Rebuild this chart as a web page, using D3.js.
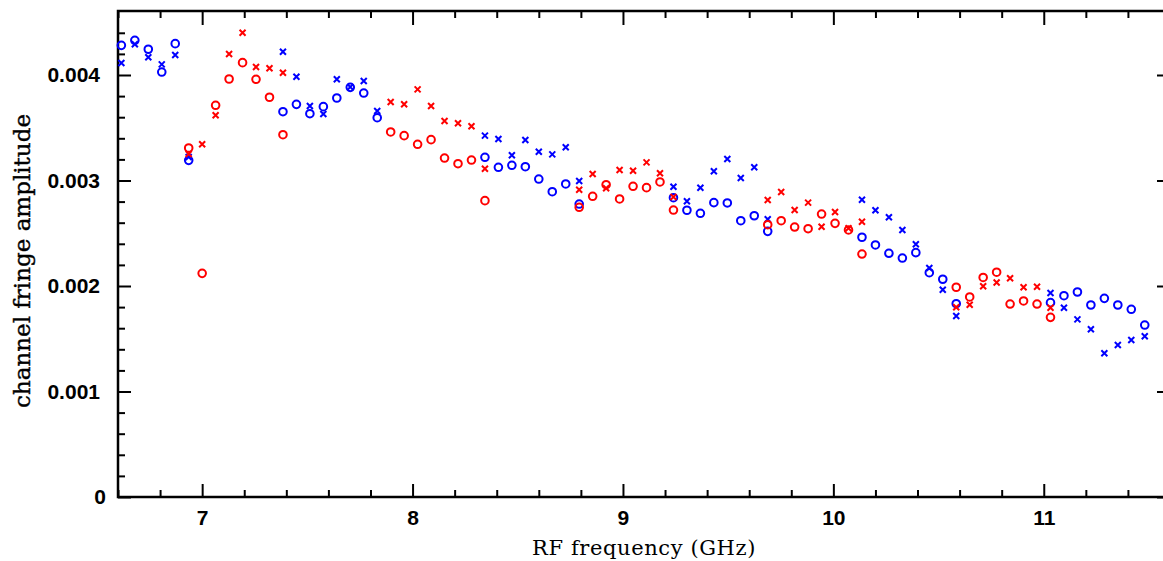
<!DOCTYPE html>
<html>
<head>
<meta charset="utf-8">
<script src="https://cdn.jsdelivr.net/npm/d3@7"></script>
<style>
  body { margin: 0; background: white; }
  .tick-label text { font-family: "Liberation Sans", Arial, sans-serif; font-weight: bold; font-size: 21px; fill: black; }
  .title { font-family: "DejaVu Serif", serif; fill: black; }
</style>
</head>
<body>
<svg id="chart"></svg>
<script>
// sub-band frequencies (GHz) and fringe amplitudes
const blueFreq = [6.616, 6.680, 6.744, 6.808, 6.872, 6.936,
    7.384, 7.448, 7.512, 7.576, 7.640, 7.704, 7.768, 7.832,
    8.344, 8.408, 8.472, 8.536, 8.600, 8.664, 8.728, 8.792,
    9.240, 9.304, 9.368, 9.432, 9.496, 9.560, 9.624, 9.688,
    10.136, 10.200, 10.264, 10.328, 10.392, 10.456, 10.520, 10.584,
    11.032, 11.096, 11.160, 11.224, 11.288, 11.352, 11.416, 11.480];
const blueCircle = [0.004281, 0.004329, 0.004244, 0.004028, 0.004297, 0.003191,
    0.003652, 0.003722, 0.003633, 0.003700, 0.003782, 0.003883, 0.003829, 0.003595,
    0.003220, 0.003125, 0.003144, 0.003131, 0.003014, 0.002894, 0.002967, 0.002777,
    0.002837, 0.002718, 0.002689, 0.002790, 0.002787, 0.002619, 0.002666, 0.002518,
    0.002462, 0.002389, 0.002310, 0.002265, 0.002316, 0.002126, 0.002064, 0.001832,
    0.001842, 0.001908, 0.001943, 0.001820, 0.001883, 0.001820, 0.001779, 0.001630];
const blueCross = [0.004114, 0.004291, 0.004168, 0.004101, 0.004190, 0.003223,
    0.004221, 0.003984, 0.003706, 0.003630, 0.003959, 0.003886, 0.003943, 0.003659,
    0.003425, 0.003393, 0.003239, 0.003384, 0.003273, 0.003248, 0.003315, 0.002995,
    0.002941, 0.002803, 0.002932, 0.003087, 0.003204, 0.003024, 0.003125, 0.002632,
    0.002818, 0.002718, 0.002651, 0.002531, 0.002395, 0.002171, 0.001965, 0.001716,
    0.001934, 0.001794, 0.001684, 0.001590, 0.001362, 0.001441, 0.001488, 0.001523];

const redFreq = [6.936, 7.000, 7.064, 7.128, 7.192, 7.256, 7.320, 7.384,
    7.896, 7.960, 8.024, 8.088, 8.152, 8.216, 8.280, 8.344,
    8.792, 8.856, 8.920, 8.984, 9.048, 9.112, 9.176, 9.240,
    9.688, 9.752, 9.816, 9.880, 9.944, 10.008, 10.072, 10.136,
    10.584, 10.648, 10.712, 10.776, 10.840, 10.904, 10.968, 11.032];
const redCircle = [0.003308, 0.002120, 0.003713, 0.003962, 0.004117, 0.003959, 0.003789, 0.003434,
    0.003460, 0.003425, 0.003343, 0.003387, 0.003213, 0.003159, 0.003194, 0.002809,
    0.002746, 0.002850, 0.002960, 0.002825, 0.002945, 0.002932, 0.002986, 0.002720,
    0.002581, 0.002619, 0.002559, 0.002543, 0.002682, 0.002594, 0.002531, 0.002303,
    0.001988, 0.001896, 0.002081, 0.002131, 0.001829, 0.001858, 0.001829, 0.001703];
const redCross = [0.003251, 0.003343, 0.003618, 0.004199, 0.004401, 0.004076, 0.004064, 0.004022,
    0.003744, 0.003722, 0.003864, 0.003706, 0.003564, 0.003542, 0.003514, 0.003112,
    0.002913, 0.003062, 0.002926, 0.003100, 0.003093, 0.003172, 0.003068, 0.002844,
    0.002815, 0.002891, 0.002720, 0.002790, 0.002562, 0.002701, 0.002547, 0.002609,
    0.001798, 0.001823, 0.001997, 0.002033, 0.002073, 0.001988, 0.001993, 0.001794];

const xMajor = [7, 8, 9, 10, 11];
const yMajor = [0, 0.001, 0.002, 0.003, 0.004];

const width = 1163, height = 561;
const m = {left: 118, right: 1170, top: 11, bottom: 497};

const svg = d3.select("#chart")
    .attr("width", width)
    .attr("height", height)
    .style("background-color", "white");

const x = d3.scaleLinear().domain([6.6, 11.6]).range([m.left, m.right]);
const y = d3.scaleLinear().domain([0, 0.0046066]).range([m.bottom, m.top]);

// minor ticks every 0.2 GHz / 0.0002
const xMinor = d3.range(6.6, 11.61, 0.2).filter(v => Math.abs(v - Math.round(v)) > 1e-6);
const yMinor = d3.range(0.0002, 0.0046, 0.0002).filter(v => Math.abs(v * 1000 - Math.round(v * 1000)) > 1e-6);

function strip(g) {
    g.select(".domain").remove();
    g.selectAll("line").attr("stroke", "black").attr("stroke-width", 2);
}

// bottom axis (ticks point up, labelled)
svg.append("g").attr("class", "tick-label")
    .attr("transform", "translate(0," + m.bottom + ")")
    .call(d3.axisBottom(x).tickValues(xMajor).tickFormat(d3.format("d")).tickSizeInner(-13).tickSizeOuter(0).tickPadding(13))
    .call(strip);
svg.append("g")
    .attr("transform", "translate(0," + m.bottom + ")")
    .call(d3.axisBottom(x).tickValues(xMinor).tickFormat("").tickSizeInner(-7).tickSizeOuter(0))
    .call(strip);

// top axis (ticks only)
svg.append("g")
    .attr("transform", "translate(0," + m.top + ")")
    .call(d3.axisTop(x).tickValues(xMajor).tickFormat("").tickSizeInner(-14).tickSizeOuter(0))
    .call(strip);
svg.append("g")
    .attr("transform", "translate(0," + m.top + ")")
    .call(d3.axisTop(x).tickValues(xMinor).tickFormat("").tickSizeInner(-7).tickSizeOuter(0))
    .call(strip);

// left axis (labelled)
const yLeft = svg.append("g").attr("class", "tick-label")
    .attr("transform", "translate(" + m.left + ",0)")
    .call(d3.axisLeft(y).tickValues(yMajor).tickFormat(d => d === 0 ? "0" : d3.format(".3f")(d)).tickSizeInner(-13).tickSizeOuter(0).tickPadding(18))
    .call(strip);
yLeft.selectAll("text").filter(d => d === 0).attr("x", -12);
svg.append("g")
    .attr("transform", "translate(" + m.left + ",0)")
    .call(d3.axisLeft(y).tickValues(yMinor).tickFormat("").tickSizeInner(-7).tickSizeOuter(0))
    .call(strip);

// right axis (ticks only)
svg.append("g")
    .attr("transform", "translate(" + m.right + ",0)")
    .call(d3.axisRight(y).tickValues(yMajor).tickFormat("").tickSizeInner(-13).tickSizeOuter(0))
    .call(strip);
svg.append("g")
    .attr("transform", "translate(" + m.right + ",0)")
    .call(d3.axisRight(y).tickValues(yMinor).tickFormat("").tickSizeInner(-7).tickSizeOuter(0))
    .call(strip);

// frame
svg.append("rect")
    .attr("x", m.left).attr("y", m.top)
    .attr("width", m.right - m.left).attr("height", m.bottom - m.top)
    .attr("fill", "none").attr("stroke", "black").attr("stroke-width", 2.5);

// axis titles
svg.append("text").attr("class", "title")
    .attr("x", 644).attr("y", 555)
    .attr("text-anchor", "middle")
    .style("font-size", "21px")
    .style("letter-spacing", "0.6px")
    .text("RF frequency (GHz)");
svg.append("text").attr("class", "title")
    .attr("transform", "translate(30,261) rotate(-90)")
    .attr("text-anchor", "middle")
    .style("font-size", "23px")
    .attr("stroke", "black")
    .attr("stroke-width", 0.4)
    .text("channel fringe amplitude");

// markers
const crossPath = "M-3,-3L3,3M-3,3L3,-3";

function drawSeries(freq, circles, crosses, colour) {
    const pts = freq.map((f, i) => ({f: f, o: circles[i], c: crosses[i]}));
    const g = svg.append("g");
    g.selectAll("circle").data(pts).enter().append("circle")
        .attr("cx", d => x(d.f))
        .attr("cy", d => y(d.o))
        .attr("r", 3.8)
        .attr("fill", "none")
        .attr("stroke", colour)
        .attr("stroke-width", 2);
    g.selectAll("path").data(pts).enter().append("path")
        .attr("d", crossPath)
        .attr("transform", d => "translate(" + x(d.f) + "," + y(d.c) + ")")
        .attr("fill", "none")
        .attr("stroke", colour)
        .attr("stroke-width", 2);
}

drawSeries(blueFreq, blueCircle, blueCross, "#0000ff");
drawSeries(redFreq, redCircle, redCross, "#ff0000");
</script>
</body>
</html>
